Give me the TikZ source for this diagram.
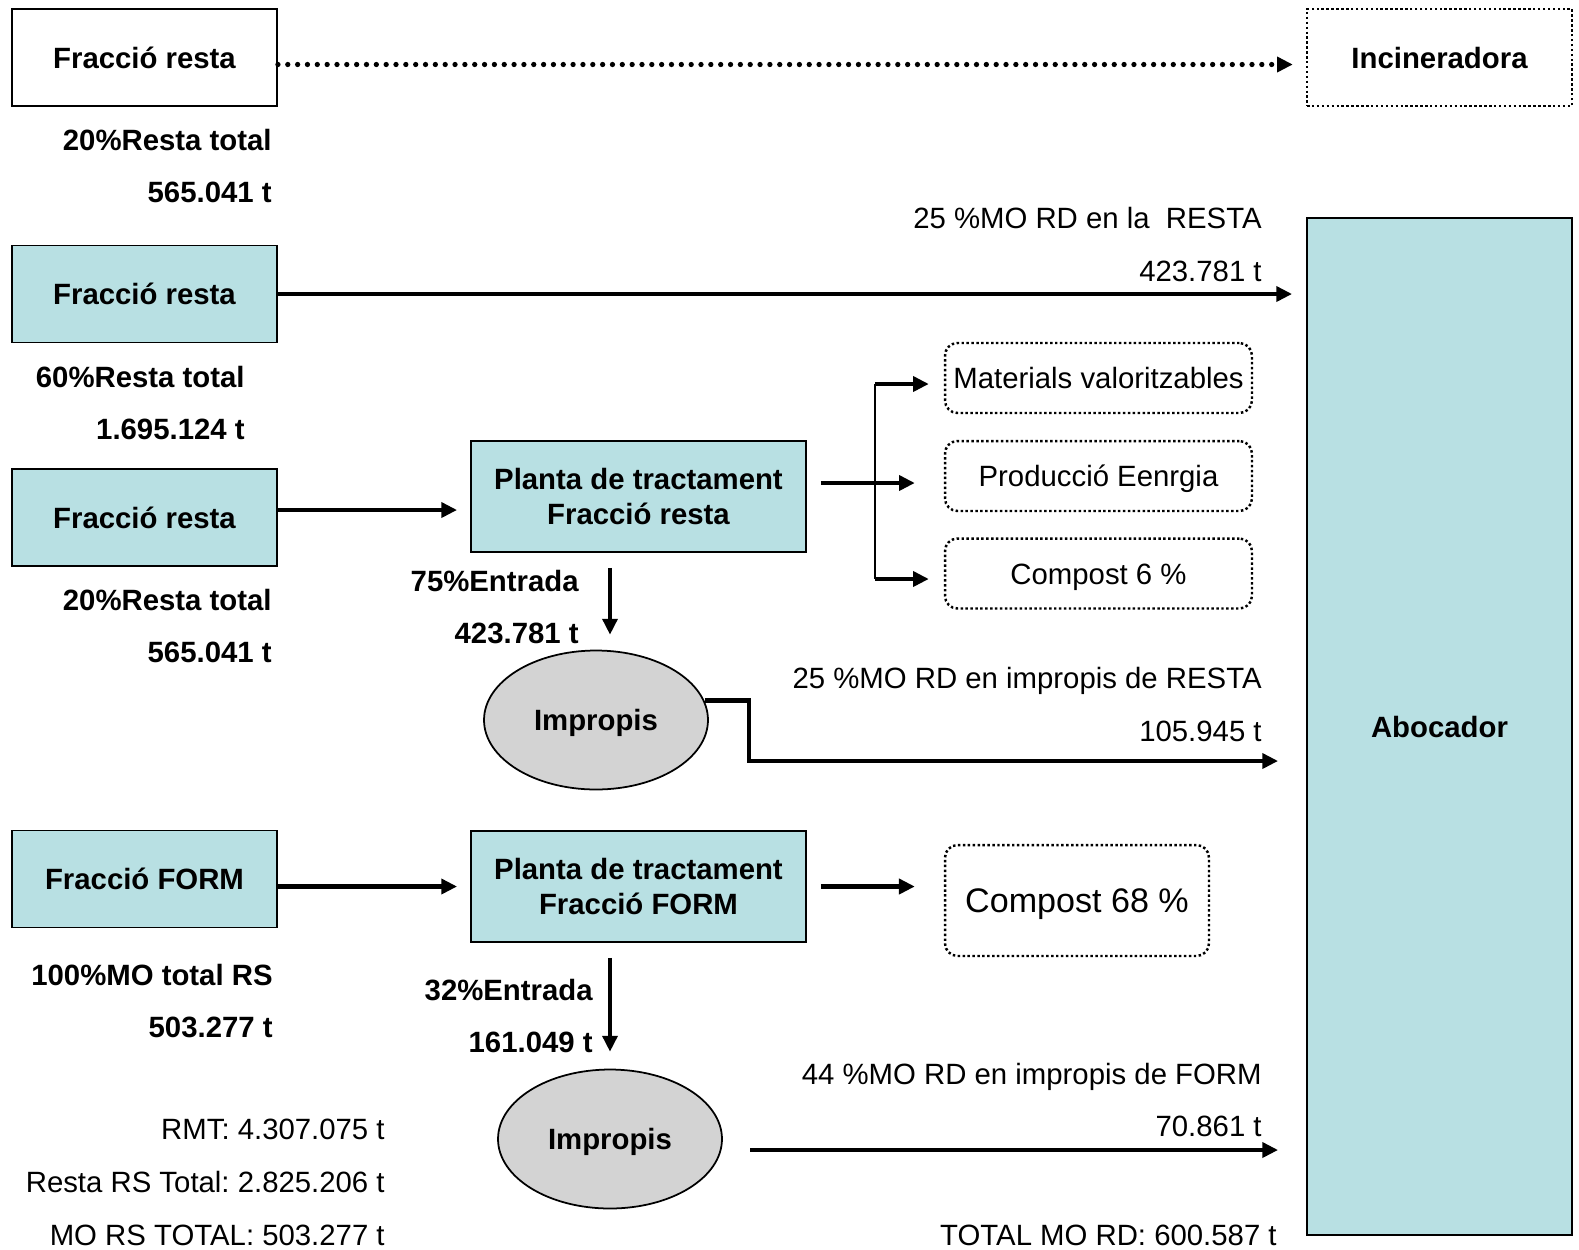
\documentclass[tikz,border=0pt]{standalone}
\usepackage{fontspec}
\setmainfont{Liberation Sans}
\usetikzlibrary{arrows.meta,shapes.geometric}
\frenchspacing

\definecolor{boxteal}{RGB}{184,224,227}
\definecolor{impgrey}{RGB}{211,211,211}

\begin{document}
\begin{tikzpicture}[x=0.02cm,y=-0.02cm,
  font=\fontsize{16.7}{20}\selectfont,
  fraccio/.style={draw,line width=1.1pt,minimum width=5.3cm,minimum height=1.94cm,
    text height=12pt,text depth=0pt,font=\fontsize{16.7}{20}\selectfont\bfseries},
  tealfr/.style={fraccio,fill=boxteal},
  planta/.style={draw,line width=1.1pt,fill=boxteal,minimum width=6.7cm,minimum height=2.22cm,
    align=center,font=\fontsize{16.7}{20}\selectfont\bfseries},
  puntejat/.style={line width=1.4pt,dash pattern=on 1.4pt off 1.4pt},
  producte/.style={draw,puntejat,rounded corners=0.25cm,text height=12pt,text depth=0pt,
    minimum width=6.14cm,minimum height=1.4cm},
  impropi/.style={ellipse,draw,line width=1pt,fill=impgrey,minimum width=4.48cm,minimum height=2.78cm,
    text height=12pt,text depth=0pt,font=\fontsize{16.7}{20}\selectfont\bfseries},
  flux/.style={line width=2.8pt,-{Triangle[length=9pt,width=8.5pt]}},
  baixa/.style={line width=2pt,-{Triangle[length=9pt,width=8.5pt]}},
  dada/.style={anchor=base east,inner sep=0pt,font=\fontsize{16.7}{20}\selectfont\bfseries},
  nota/.style={anchor=base east,inner sep=0pt}]

  \useasboundingbox (0,0) rectangle (1579,1249);

  % Top row: resta to incinerator
  \node[fraccio] (restaInc) at (144.5,57.5) {Fracció resta};
  \node[fraccio,puntejat] (incin) at (1439.5,57.5) {Incineradora};
  \draw[line width=3pt,line cap=round,dash pattern=on 0pt off 5.6pt,
    -{Triangle[length=9pt,width=8.5pt]},shorten >=0.26cm]
    ([yshift=-0.14cm]restaInc.east) -- ([yshift=-0.14cm]incin.west);
  \node[dada] (l1) at (272,150.5) {20\%Resta total};
  \node[dada] (l2) at (272,202) {565.041 t};

  % Landfill
  \node[tealfr,minimum height=20.34cm] (abocador) at (1439.5,726.5) {Abocador};

  % Resta directly to landfill
  \node[tealfr] (restaAbo) at (144.5,294) {Fracció resta};
  \draw[flux,shorten >=0.28cm] (restaAbo.east) -- (restaAbo.east -| abocador.west);
  \node[nota] (l3) at (1262,228) {25 \%MO RD en la~~RESTA};
  \node[nota] (l4) at (1262,281.5) {423.781 t};
  \node[dada] (l5) at (245,387) {60\%Resta total};
  \node[dada] (l6) at (245,439.5) {1.695.124 t};

  % Resta to treatment plant
  \node[tealfr] (restaPl) at (144.5,517.5) {Fracció resta};
  \node[planta] (plResta) at (638.5,496.5) {Planta de tractament\\Fracció resta};
  \coordinate (a3) at ([yshift=0.15cm]restaPl.east);
  \draw[flux,shorten >=0.26cm] (a3) -- (a3 -| plResta.west);
  \node[dada] (l7) at (272,610.5) {20\%Resta total};
  \node[dada] (l8) at (272,662) {565.041 t};

  % Products of the plant
  \node[producte] (matVal) at (1098.5,378) {Materials valoritzables};
  \node[producte] (prodEn) at (1098.5,476) {Producció Eenrgia};
  \node[producte] (comp6) at (1098.5,573.5) {Compost 6 \%};
  \coordinate (split) at (875,483);
  \coordinate (brTop) at (875,384);
  \coordinate (brBot) at (875,579);
  \draw[flux,shorten <=0.28cm,shorten >=0.58cm] (plResta.east |- split) -- (prodEn.west |- split);
  \draw[line width=1.2pt] (brTop) -- (brBot);
  \draw[flux,shorten >=0.3cm] (brTop) -- (brTop -| matVal.west);
  \draw[flux,shorten >=0.3cm] (brBot) -- (brBot -| comp6.west);

  % Rejects of the resta plant
  \node[impropi] (impResta) at (596,720) {Impropis};
  \coordinate (d1) at (610,560);
  \draw[baixa,shorten <=0.3cm,shorten >=0.3cm] (plResta.south -| d1) -- (impResta.north -| d1);
  \node[dada] (l9) at (579,591.5) {75\%Entrada};
  \node[dada] (l10) at (579,643) {423.781 t};
  \coordinate (b1) at (749,761);
  \draw[flux,shorten >=0.56cm] (impResta.10) -| (b1) -- (b1 -| abocador.west);
  \node[nota] (l11) at (1262,688.5) {25 \%MO RD en impropis de RESTA};
  \node[nota] (l12) at (1262,741.5) {105.945 t};

  % FORM line
  \node[tealfr] (form) at (144.5,879) {Fracció FORM};
  \node[planta] (plForm) at (638.5,886.5) {Planta de tractament\\Fracció FORM};
  \draw[flux,shorten >=0.26cm] (form.east |- plForm) -- (plForm.west);
  \node[producte,minimum width=5.28cm,minimum height=2.22cm,text height=14pt,
    font=\fontsize{19.4}{23}\selectfont] (comp68) at (1077,900.5) {Compost 68 \%};
  \draw[flux,shorten <=0.28cm,shorten >=0.58cm] (plForm.east) -- (comp68.west |- plForm);
  \node[dada] (l13) at (273,985.5) {100\%MO total RS};
  \node[dada] (l14) at (273,1037.5) {503.277 t};

  % Rejects of the FORM plant
  \node[impropi] (impForm) at (610,1139) {Impropis};
  \draw[baixa,shorten <=0.3cm,shorten >=0.34cm] (plForm.south -| impForm) -- (impForm.north);
  \node[dada] (l15) at (593,1000.5) {32\%Entrada};
  \node[dada] (l16) at (593,1052) {161.049 t};
  \coordinate (r2) at (750,1150);
  \draw[flux,shorten >=0.56cm] (r2) -- (r2 -| abocador.west);
  \node[nota] (l17) at (1262,1084.5) {44 \%MO RD en impropis de FORM};
  \node[nota] (l18) at (1262,1136.5) {70.861 t};

  % Totals
  \node[nota] (t1) at (385,1139.5) {RMT: 4.307.075 t};
  \node[nota] (t2) at (385,1192) {Resta RS Total: 2.825.206 t};
  \node[nota] (t3) at (385,1245.5) {MO RS TOTAL: 503.277 t};
  \node[nota] (t4) at (1277,1245.5) {TOTAL MO RD: 600.587 t};

\end{tikzpicture}
\end{document}
